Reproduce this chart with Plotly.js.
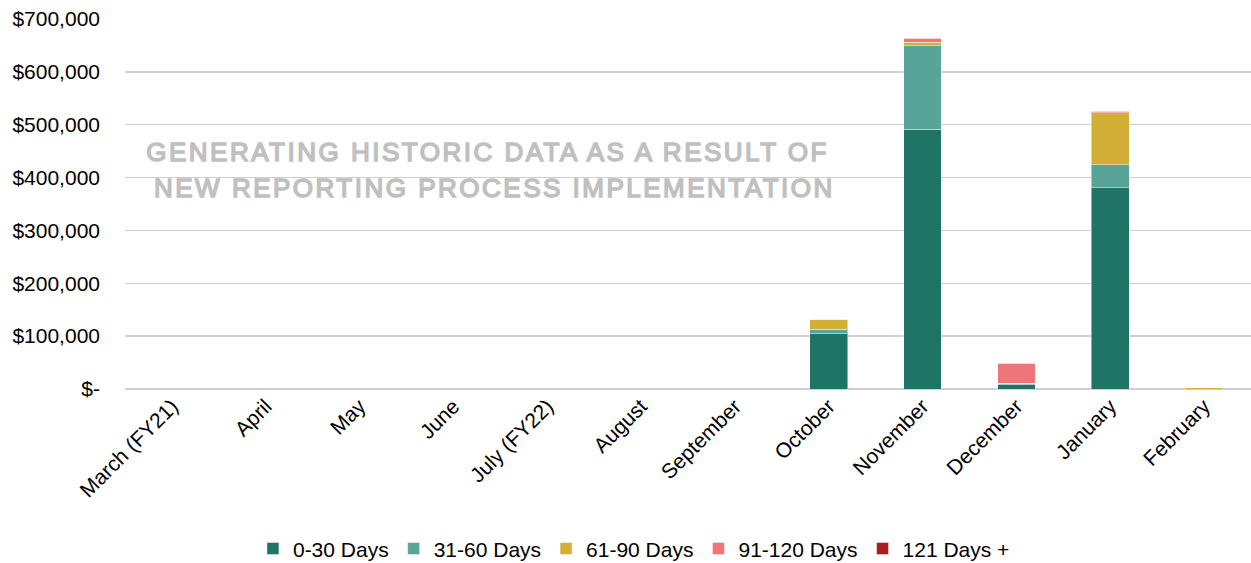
<!DOCTYPE html>
<html>
<head>
<meta charset="utf-8">
<script src="https://cdn.plot.ly/plotly-3.0.1.min.js"></script>
<style>html,body{margin:0;padding:0;background:#fff;}#chart{width:1251px;height:563px;}</style>
</head>
<body>
<div id="chart"></div>
<script>
const months = ["March (FY21)", "April", "May", "June", "July (FY22)", "August", "September", "October", "November", "December", "January", "February"];
const days0_30   = [0, 0, 0, 0, 0, 0, 0, 105000, 491000, 8000, 381000, 0];
const days31_60  = [0, 0, 0, 0, 0, 0, 0, 8000, 158000, 2600, 43000, 0];
const days61_90  = [0, 0, 0, 0, 0, 0, 0, 19000, 7000, 0, 99000, 2500];
const days91_120 = [0, 0, 0, 0, 0, 0, 0, 0, 7500, 38000, 2600, 0];
const days121    = [0, 0, 0, 0, 0, 0, 0, 0, 0, 0, 0, 0];
const seriesNames = ["0-30 Days", "31-60 Days", "61-90 Days", "91-120 Days", "121 Days +"];
const seriesColors = ["#1f7466", "#58a498", "#d4af37", "#ef7578", "#a61e22"];
const tickValues = [0, 100000, 200000, 300000, 400000, 500000, 600000, 700000];
const tickLabels = ["$-", "$100,000", "$200,000", "$300,000", "$400,000", "$500,000", "$600,000", "$700,000"];
const watermark = ["GENERATING HISTORIC DATA AS A RESULT OF", "NEW REPORTING PROCESS IMPLEMENTATION"];

const seriesData = [days0_30, days31_60, days61_90, days91_120, days121];
const traces = seriesData.map((vals, i) => ({
  type: "bar",
  name: seriesNames[i],
  x: months,
  y: vals,
  marker: {color: seriesColors[i], line: {color: "rgba(255,255,255,0.45)", width: 1}},
  hoverinfo: "x+y+name"
}));

const font = "Liberation Sans, Arial, sans-serif";
const layout = {
  width: 1251,
  height: 563,
  barmode: "stack",
  bargap: 0.6,
  margin: {l: 125, r: 0, t: 19, b: 174, autoexpand: false},
  paper_bgcolor: "#fff",
  plot_bgcolor: "#fff",
  font: {family: font, size: 21, color: "#000"},
  showlegend: true,
  legend: {
    orientation: "h",
    x: 0.452,
    xanchor: "center",
    y: -0.432,
    yanchor: "middle",
    font: {family: font, size: 21, color: "#000"},
    traceorder: "normal",
    itemwidth: 30
  },
  xaxis: {
    type: "category",
    tickangle: -45,
    showgrid: false,
    showline: false,
    zeroline: false,
    ticks: "",
    automargin: false,
    tickfont: {family: font, size: 21, color: "#000"}
  },
  yaxis: {
    range: [0, 700000],
    tickvals: tickValues,
    ticktext: tickLabels,
    showgrid: true,
    gridcolor: "#cfcfcf",
    gridwidth: 1.3,
    zeroline: true,
    zerolinecolor: "#cfcfcf",
    zerolinewidth: 1.3,
    showline: false,
    ticks: "",
    automargin: false,
    ticklabelstandoff: 24,
    tickfont: {family: font, size: 21, color: "#000"}
  },
  annotations: [
    {text: watermark[0], xref: "paper", yref: "paper", x: 0.322, y: 0.6405, xanchor: "center", yanchor: "middle", showarrow: false,
     font: {family: font, size: 26, color: "#c0c0c0"}},
    {text: watermark[1], xref: "paper", yref: "paper", x: 0.328, y: 0.543, xanchor: "center", yanchor: "middle", showarrow: false,
     font: {family: font, size: 26, color: "#c0c0c0"}}
  ]
};

Plotly.newPlot("chart", traces, layout, {displayModeBar: false, staticPlot: true}).then(function (gd) {
  // heavy watermark look, as in the reference
  gd.querySelectorAll(".annotation-text").forEach(function (t) {
    t.style.stroke = "#c0c0c0";
    t.style.strokeWidth = "1.5px";
    t.style.letterSpacing = "2.5px";
  });
});
</script>
</body>
</html>
